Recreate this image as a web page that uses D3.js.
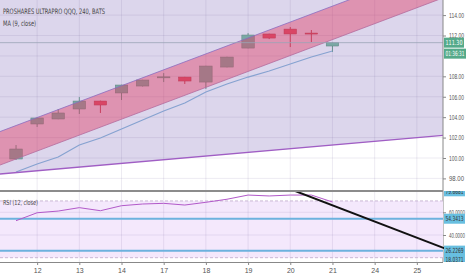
<!DOCTYPE html>
<html>
<head>
<meta charset="utf-8">
<script src="https://cdn.jsdelivr.net/npm/d3@7"></script>
<style>
body { margin: 0; background: #fff; }
svg { display: block; font-family: "Liberation Sans Narrow", "DejaVu Sans Condensed", "Liberation Sans", sans-serif; }
.axis path, .axis line { stroke: #888; }
.axis text { fill: #555; font-size: 7px; }
</style>
</head>
<body>
<svg id="chart"></svg>
<script>
// 4h bars, two per session; first bar of each labelled day is bar 1, 3, 5 ...
const days = ['12', '13', '14', '17', '18', '19', '20', '21', '24', '25'];
const opens  = [99.90, 103.33, 103.82, 104.80, 105.58, 106.37, 107.05, 107.93, 107.93, 107.44, 108.91, 110.77, 112.15, 112.63, 112.24, 110.97];
const highs  = [101.27, 103.95, 104.80, 105.97, 105.62, 107.18, 107.66, 108.32, 107.95, 109.03, 109.92, 112.24, 112.18, 112.83, 112.54, 111.33];
const lows   = [99.80, 103.04, 103.80, 104.31, 104.41, 105.68, 107.00, 107.44, 107.25, 106.76, 108.88, 110.75, 111.65, 110.87, 111.36, 110.38];
const closes = [100.88, 103.92, 104.41, 105.58, 105.19, 107.15, 107.64, 107.95, 107.54, 109.01, 109.89, 112.05, 111.75, 112.15, 112.22, 111.30];
const ma9    = [98.63, 99.41, 100.10, 101.27, 101.96, 102.84, 103.72, 104.60, 105.39, 106.46, 107.25, 107.93, 108.52, 109.21, 109.89, 110.48];
const rsi12  = [52.6, 59.6, 61.1, 64.1, 61.4, 65.8, 67.3, 67.9, 66.4, 68.8, 71.5, 75.2, 74.4, 75.2, 75.2, 69.1];

// drawings: [bar, value]
const channelUpper = [[-1, 102.40], [21, 119.56]];
const channelLower = [[-1, 99.12], [21, 116.28]];
const trendLow = [[-1, 98.39], [21, 102.35]];
const rsiTrend = [[13, 80.4], [21, 23.4]];
const rsiLevels = [54.3413, 26.2269];
const rsiHidden = [['79.6681', 78.5], ['18.0371', 18.0]];
const priceGrid = [98, 100, 102, 104, 106, 108, 110, 112, 114];
const priceLabels = [98, 100, 102, 104, 106, 108, 112, 114]; // 110.00 sits under the countdown tag
const rsiTicks = [40, 60];
const lastPrice = 111.30;
const countdown = '01:36:31';

const width = 466, height = 275;
const plotRight = 443;
const main = { top: 0, bottom: 190 };
const pane = { top: 191, bottom: 262 };

const svg = d3.select('#chart').attr('width', width).attr('height', height);

const x = d3.scaleLinear().domain([-0.76, 20.24]).range([0, plotRight]);
const y = d3.scaleLinear().domain([98, 114]).range([178.4, 15.1]);
const yR = d3.scaleLinear().domain([40, 60]).range([235, 212.3]);
const dayIdx = days.map((d, i) => 1 + 2 * i);

svg.append('clipPath').attr('id', 'clipMain').append('rect')
    .attr('x', 0).attr('y', main.top).attr('width', plotRight).attr('height', main.bottom - main.top);
svg.append('clipPath').attr('id', 'clipPane').append('rect')
    .attr('x', 0).attr('y', pane.top).attr('width', width).attr('height', pane.bottom - pane.top);

/* MAIN PANE */
const g = svg.append('g').attr('clip-path', 'url(#clipMain)');
const pt = d => [x(d[0]), y(d[1])];

g.append('path')
    .attr('d', d3.area().x(d => x(d[0])).y0(main.top).y1(d => y(d[1]))(trendLow))
    .attr('fill', '#dcd6ec');

g.selectAll('.vgrid').data(dayIdx).enter().append('line')
    .attr('x1', d => x(d)).attr('x2', d => x(d))
    .attr('y1', main.top).attr('y2', main.bottom)
    .attr('stroke', 'rgba(110,90,150,0.12)');
g.selectAll('.hgrid').data(priceGrid).enter().append('line')
    .attr('x1', 0).attr('x2', plotRight)
    .attr('y1', d => y(d)).attr('y2', d => y(d))
    .attr('stroke', 'rgba(110,90,150,0.12)');

const bars = opens.map((o, i) => ({ i, o, h: highs[i], l: lows[i], c: closes[i] }));
const colour = d => d.c >= d.o ? '#7aa8a4' : '#d4506a';
const bw = 12.5;

g.selectAll('.wick').data(bars).enter().append('line')
    .attr('x1', d => x(d.i)).attr('x2', d => x(d.i))
    .attr('y1', d => y(d.h)).attr('y2', d => y(d.l))
    .attr('stroke', d => d3.color(colour(d)).darker(0.4));
g.selectAll('.body').data(bars).enter().append('rect')
    .attr('x', d => x(d.i) - bw / 2)
    .attr('width', bw)
    .attr('y', d => y(Math.max(d.o, d.c)))
    .attr('height', d => Math.max(1, Math.abs(y(d.o) - y(d.c))))
    .attr('fill', colour)
    .attr('stroke', d => d3.color(colour(d)).darker(0.7))
    .attr('stroke-width', 0.5);

g.append('path')
    .attr('d', d3.area().x(d => x(d[0])).y0((d, i) => y(channelLower[i][1])).y1(d => y(d[1]))(channelUpper))
    .attr('fill', '#e0365f').attr('fill-opacity', 0.42);
g.append('path').attr('d', d3.line().x(d => pt(d)[0]).y(d => pt(d)[1])(channelUpper))
    .attr('stroke', '#8a6cc0').attr('fill', 'none').attr('stroke-width', 0.8);
g.append('path').attr('d', d3.line().x(d => pt(d)[0]).y(d => pt(d)[1])(channelLower))
    .attr('stroke', '#b46a9c').attr('fill', 'none').attr('stroke-width', 0.8);

g.append('path')
    .attr('d', d3.line().x((d, i) => x(i)).y(d => y(d))(ma9))
    .attr('stroke', '#86a2d0').attr('fill', 'none').attr('stroke-width', 1.2);

g.append('line')
    .attr('x1', 0).attr('x2', plotRight)
    .attr('y1', y(lastPrice)).attr('y2', y(lastPrice))
    .attr('stroke', '#9aa4b6').attr('stroke-width', 0.8);

g.append('path').attr('d', d3.line().x(d => pt(d)[0]).y(d => pt(d)[1])(trendLow))
    .attr('stroke', '#a05ec4').attr('fill', 'none').attr('stroke-width', 1.3);

svg.append('text').attr('x', 3).attr('y', 13.5)
    .attr('textLength', 102).attr('lengthAdjust', 'spacingAndGlyphs')
    .style('font-size', '7.5px').attr('fill', '#444')
    .text('PROSHARES ULTRAPRO QQQ, 240, BATS');
svg.append('text').attr('x', 3).attr('y', 25.5)
    .attr('textLength', 33).attr('lengthAdjust', 'spacingAndGlyphs')
    .style('font-size', '7.5px').attr('fill', '#444')
    .text('MA (9, close)');

svg.append('g').attr('class', 'axis')
    .attr('transform', `translate(${plotRight},0)`)
    .call(d3.axisRight(y).tickValues(priceLabels).tickFormat(d3.format('.2f')).tickSize(3).tickPadding(3))
    .call(a => a.select('.domain').attr('d', `M0,${main.top}V${pane.bottom}`))
    .call(a => a.selectAll('text').attr('textLength', 15).attr('lengthAdjust', 'spacingAndGlyphs'));

const tag = (cy, label, fill, txt, w) => {
    svg.append('rect').attr('x', plotRight + 1).attr('y', cy - 5).attr('width', w).attr('height', 10).attr('fill', fill);
    svg.append('text').attr('x', plotRight + 2.5).attr('y', cy + 2.5)
        .attr('textLength', w - 3).attr('lengthAdjust', 'spacingAndGlyphs')
        .attr('fill', txt).style('font-size', '7px').text(label);
};
tag(y(lastPrice), lastPrice.toFixed(2), '#55aa8a', '#fff', 20);
tag(y(lastPrice) + 11, countdown, '#55aa8a', '#fff', 22);

svg.append('line').attr('x1', 0).attr('x2', plotRight).attr('y1', main.bottom + 0.5).attr('y2', main.bottom + 0.5)
    .attr('stroke', '#8c8c8c');

/* RSI PANE */
const r = svg.append('g').attr('clip-path', 'url(#clipPane)');
r.append('rect').attr('x', 0).attr('width', plotRight)
    .attr('y', yR(70)).attr('height', yR(20) - yR(70)).attr('fill', '#f4e8fc');
r.selectAll('.vgrid').data(dayIdx).enter().append('line')
    .attr('x1', d => x(d)).attr('x2', d => x(d))
    .attr('y1', pane.top).attr('y2', pane.bottom)
    .attr('stroke', 'rgba(110,90,150,0.12)');
r.selectAll('.hgrid').data(rsiTicks).enter().append('line')
    .attr('x1', 0).attr('x2', plotRight)
    .attr('y1', d => yR(d)).attr('y2', d => yR(d))
    .attr('stroke', 'rgba(110,90,150,0.12)');
r.selectAll('.band').data([70, 20]).enter().append('line')
    .attr('x1', 0).attr('x2', plotRight)
    .attr('y1', d => yR(d)).attr('y2', d => yR(d))
    .attr('stroke', '#c9b7d4').attr('stroke-dasharray', '3,2');
r.selectAll('.level').data(rsiLevels).enter().append('line')
    .attr('x1', 0).attr('x2', plotRight)
    .attr('y1', d => yR(d)).attr('y2', d => yR(d))
    .attr('stroke', '#6cb2de').attr('stroke-width', 2);
r.append('path')
    .attr('d', d3.line().x((d, i) => x(i)).y(d => yR(d))(rsi12))
    .attr('stroke', '#b259c9').attr('fill', 'none').attr('stroke-width', 1);
r.append('path')
    .attr('d', d3.line().x(d => x(d[0])).y(d => yR(d[1]))(rsiTrend))
    .attr('stroke', '#111').attr('fill', 'none').attr('stroke-width', 2);

svg.append('text').attr('x', 3).attr('y', 205)
    .attr('textLength', 35).attr('lengthAdjust', 'spacingAndGlyphs')
    .style('font-size', '7px').attr('fill', '#444')
    .text('RSI (12, close)');

svg.append('g').attr('class', 'axis')
    .attr('transform', `translate(${plotRight},0)`)
    .call(d3.axisRight(yR).tickValues(rsiTicks).tickFormat(d3.format('.4f')).tickSize(3).tickPadding(3))
    .call(a => a.select('.domain').remove())
    .call(a => a.selectAll('text').attr('textLength', 16).attr('lengthAdjust', 'spacingAndGlyphs'));

const rTags = svg.append('g').attr('clip-path', 'url(#clipPane)');
rsiLevels.map(v => [v.toFixed(4), v]).concat(rsiHidden).forEach(([label, v]) => {
    rTags.append('rect').attr('x', plotRight + 1).attr('y', yR(v) - 5).attr('width', 21).attr('height', 10).attr('fill', '#68bfe0');
    rTags.append('text').attr('x', plotRight + 2.5).attr('y', yR(v) + 2.5)
        .attr('textLength', 18).attr('lengthAdjust', 'spacingAndGlyphs')
        .attr('fill', '#333').style('font-size', '7px').text(label);
});

svg.append('line').attr('x1', 0).attr('x2', plotRight).attr('y1', pane.top + 0.5).attr('y2', pane.top + 0.5)
    .attr('stroke', '#8c8c8c');

svg.append('g').attr('class', 'axis')
    .attr('transform', `translate(0,${pane.bottom})`)
    .call(d3.axisBottom(x).tickValues(dayIdx).tickFormat((d, i) => days[i]).tickSize(3).tickPadding(3))
    .call(a => a.select('.domain').attr('d', `M0,0.5H${plotRight}`).attr('stroke', '#8c8c8c'));
</script>
</body>
</html>
